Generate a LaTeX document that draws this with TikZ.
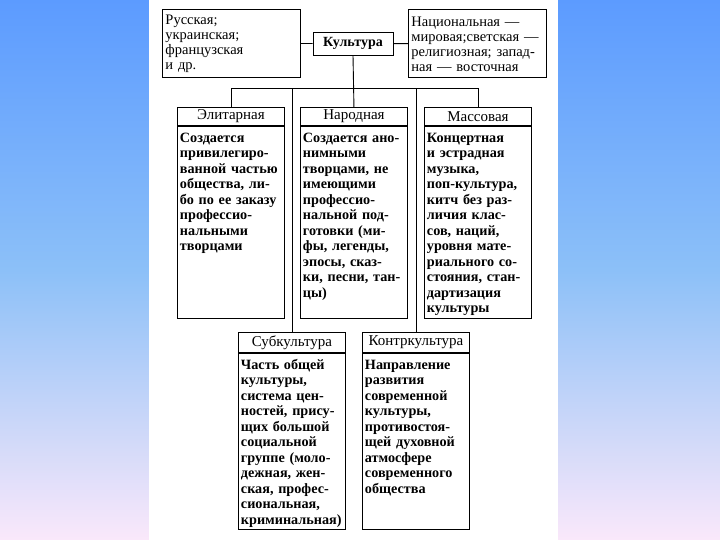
\documentclass[tikz,border=0pt]{standalone}
\usepackage{fontspec}
\setmainfont{Liberation Serif}
\usepackage{xcolor}
\definecolor{bgtop}{RGB}{92,155,255}
\definecolor{bgmid}{RGB}{140,192,248}
\definecolor{bgbot}{RGB}{250,232,250}
\usetikzlibrary{positioning}

\begin{document}
\begin{tikzpicture}[x=1pt,y=-1pt,
  topbox/.style={rectangle,draw,line width=0.9pt,anchor=north west,text width=132pt,inner xsep=3pt,minimum height=68pt,align=left,font=\fontsize{14.5}{15}\selectfont},
  cbox/.style={rectangle,draw,line width=0.9pt,minimum width=80pt,minimum height=23pt,font=\fontsize{14}{15}\selectfont\bfseries},
  hbox/.style={rectangle,draw,line width=0.9pt,anchor=north west,minimum width=107pt,minimum height=18pt,inner sep=0pt,font=\fontsize{15}{15}\selectfont},
  bbox/.style={rectangle,draw,line width=0.9pt,text width=102pt,inner xsep=2.5pt,inner ysep=3pt,align=left,text height=13pt,font=\fontsize{14.2}{15.5}\selectfont\bfseries},
  link/.style={line width=0.9pt}
]
  % background
  \shade[top color=bgtop,bottom color=bgbot,middle color=bgmid] (0,0) rectangle (720,540);
  \fill[white] (149,0) rectangle (558,540);

  % Top row
  \node[topbox] (rus) at (162,9) {Русская;\\украинская;\\французская\\и др.};
  \node[cbox] (cult) at (353,43.5) {Культура};
  \node[topbox] (nac) at (408,9.5) {Национальная —\\мировая;светская —\\религиозная; запад-\\ная — восточная};

  % Kinds
  \node[hbox] (elit) at (177,107) {Элитарная};
  \node[bbox,text depth=173pt,below=0pt of elit] (elitb) {Создается\\привилегиро-\\ванной частью\\общества, ли-\\бо по ее заказу\\профессио-\\нальными\\творцами};
  \node[hbox] (narod) at (300,107) {Народная};
  \node[bbox,text depth=173pt,below=0pt of narod] (narodb) {Создается ано-\\нимными\\творцами, не\\имеющими\\профессио-\\нальной под-\\готовки (ми-\\фы, легенды,\\эпосы, сказ-\\ки, песни, тан-\\цы)};
  \node[hbox] (mass) at (424,107) {Массовая};
  \node[bbox,text depth=173pt,below=0pt of mass] (massb) {Концертная\\и эстрадная\\музыка,\\поп-культура,\\китч без раз-\\личия клас-\\сов, наций,\\уровня мате-\\риального со-\\стояния, стан-\\дартизация\\культуры};

  % Sub and counter
  \node[hbox,minimum height=20pt] (sub) at (238,332) {Субкультура};
  \node[bbox,text depth=157pt,below=0pt of sub] (subb) {Часть общей\\культуры,\\система цен-\\ностей, прису-\\щих большой\\социальной\\группе (моло-\\дежная, жен-\\ская, профес-\\сиональная,\\криминальная)};
  \node[hbox,minimum height=20pt] (kontr) at (362,332) {Контркультура};
  \node[bbox,text depth=157pt,below=0pt of kontr] (kontrb) {Направление\\развития\\современной\\культуры,\\противостоя-\\щей духовной\\атмосфере\\современного\\общества};

  % Lines
  \coordinate (bus) at (0,88);
  \draw[link] (rus) -- (cult); \draw[link] (cult) -- (nac);
  \draw[link] (cult.south) -- (narod.north);
  \draw[link] (elit.north) -- (elit.north |- bus) -| (mass.north);
  \draw[link] (sub.north) -- (sub.north |- bus);
  \draw[link] (kontr.north) -- (kontr.north |- bus);
\end{tikzpicture}
\end{document}
